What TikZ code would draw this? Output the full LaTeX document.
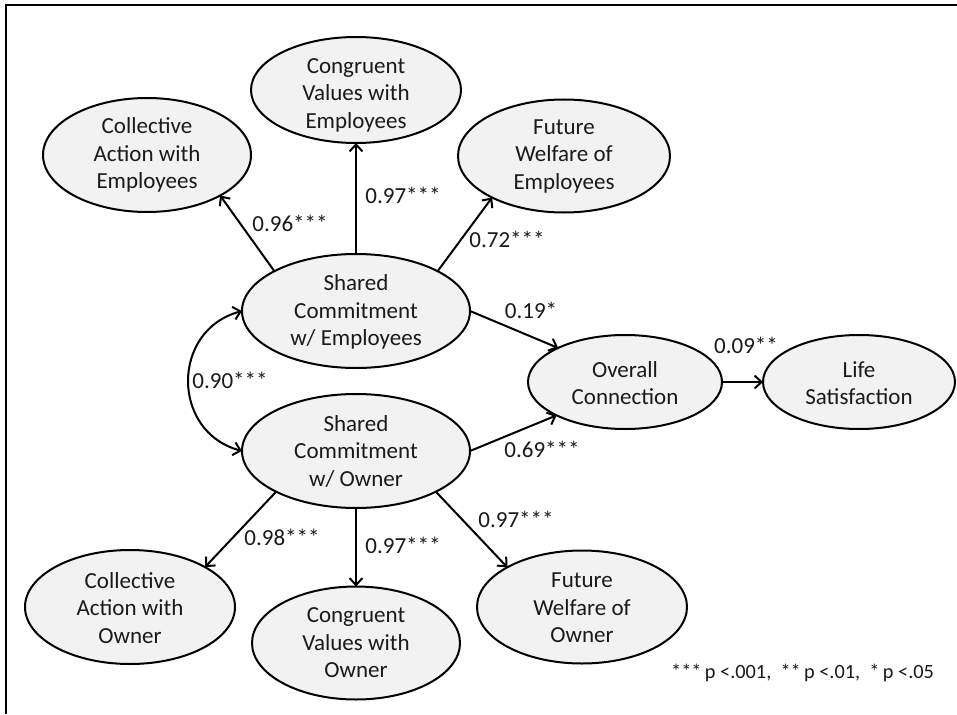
\documentclass[tikz,border=0pt]{standalone}
\usepackage{fontspec}
\setmainfont{Carlito}
\usetikzlibrary{shapes.geometric,arrows.meta}
\definecolor{ellfill}{HTML}{F2F2F2}
\definecolor{ink}{HTML}{1A1A1A}
\begin{document}
\begin{tikzpicture}[x=1pt,y=-1pt,
  ell/.style={ellipse,draw=black,line width=2pt,fill=ellfill,inner sep=0pt,outer sep=0pt},
  txt/.style={align=center,inner sep=0pt,text=ink,font=\fontsize{23}{27.5}\selectfont},
  coef/.style={inner sep=0pt,text=ink,font=\fontsize{23}{27}\selectfont},
  path/.style={line width=2pt,-{Straight Barb[length=7pt,width=13pt,line width=2pt]}},
  cov/.style={line width=2pt,{Straight Barb[length=7pt,width=13pt,line width=2pt]}-{Straight Barb[length=7pt,width=13pt,line width=2pt]}}]
\useasboundingbox (0,0) rectangle (957,714);
\fill[white] (0,0) rectangle (957,714);
% frame
\draw[line width=2.4pt] (5.8,714) -- (5.8,5.3) -- (957,5.3);

% latent variables
\node[ell,minimum width=208pt,minimum height=114pt] (cae) at (147,155) {};
\node[ell,minimum width=210pt,minimum height=106pt] (cve) at (356,90) {};
\node[ell,minimum width=212pt,minimum height=113pt] (fwe) at (564,156) {};
\node[ell,minimum width=228pt,minimum height=114pt] (sce) at (356,311) {};
\node[ell,minimum width=228pt,minimum height=114pt] (sco) at (356,451) {};
\node[ell,minimum width=194pt,minimum height=94pt] (oc) at (625,382) {};
\node[ell,minimum width=192pt,minimum height=94pt] (ls) at (859,382) {};
\node[ell,minimum width=210pt,minimum height=114pt] (cao) at (130,607) {};
\node[ell,minimum width=208pt,minimum height=113pt] (cvo) at (356,643) {};
\node[ell,minimum width=210pt,minimum height=113pt] (fwo) at (582,607) {};

% names
\node[txt] (tcae) at (147,155) {Collective\\Action with\\Employees};
\node[txt] (tcve) at (356,95) {Congruent\\Values with\\Employees};
\node[txt] (tfwe) at (564,156) {Future\\Welfare of\\Employees};
\node[txt] (tsce) at (356,312) {Shared\\Commitment\\w/ Employees};
\node[txt] (tsco) at (356,451) {Shared\\Commitment\\w/ Owner};
\node[txt] (toc) at (625,383) {Overall\\Connection};
\node[txt] (tls) at (859,383) {Life\\Satisfaction};
\node[txt] (tcao) at (130,608) {Collective\\Action with\\Owner};
\node[txt] (tcvo) at (356,643) {Congruent\\Values with\\Owner};
\node[txt] (tfwo) at (582,608) {Future\\Welfare of\\Owner};

% paths
\draw[path] (sce.154) -- (cae.331);
\draw[path] (sce.north) -- (cve.south);
\draw[path] (sce.26) -- (fwe.210);
\draw[path] (sce.east) -- (oc.153);
\draw[path] (sco.east) -- (oc.206);
\draw[path] (oc.east) -- (ls.west);
\draw[path] (sco.207) -- (cao.28);
\draw[path] (sco.south) -- (cvo.north);
\draw[path] (sco.333) -- (fwo.152);
\draw[cov] (sce.west) to[out=195,in=165,looseness=1.35] (sco.west);

% coefficients
\node[coef] (c1) at (290,223) {0.96***};
\node[coef] (c2) at (403,195) {0.97***};
\node[coef] (c3) at (507,239) {0.72***};
\node[coef] (c4) at (531,310) {0.19*};
\node[coef] (c5) at (746,345) {0.09**};
\node[coef] (c6) at (542,449) {0.69***};
\node[coef] (c7) at (230,380) {0.90***};
\node[coef] (c8) at (282,537) {0.98***};
\node[coef] (c9) at (403,545) {0.97***};
\node[coef] (c10) at (516,519) {0.97***};

% significance note
\node[coef,anchor=west,font=\fontsize{20.3}{23}\selectfont] (note) at (671,673) {***\,p <.001,\ \ **\,p <.01,\ \ *\,p <.05};
\end{tikzpicture}
\end{document}
